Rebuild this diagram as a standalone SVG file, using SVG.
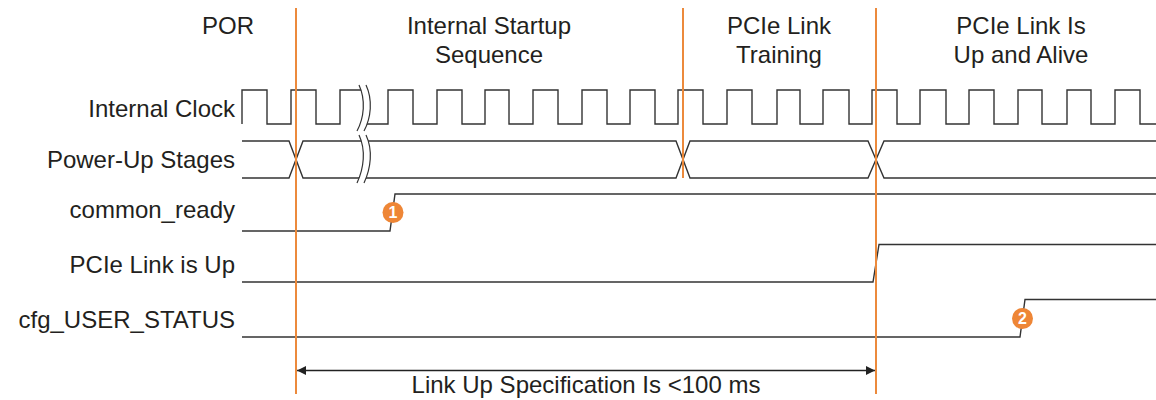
<svg xmlns="http://www.w3.org/2000/svg" width="1156" height="400" viewBox="0 0 1156 400">
<style>
  .lbl{font-family:"Liberation Sans",Arial,sans-serif;font-size:24px;fill:#231f20}
  .r{text-anchor:end}
  .c{text-anchor:middle}
  .sig{fill:none;stroke:#333;stroke-width:1.4}
  .org{stroke:#EC8A3C;stroke-width:2;fill:none}
  .brk{fill:#fff;stroke:none}
  .brkl{fill:none;stroke:#333;stroke-width:1.2}
  .badge{fill:#EE8636}
  .bnum{font-family:"Liberation Sans",Arial,sans-serif;font-size:16px;font-weight:bold;fill:#fff;text-anchor:middle}
</style>
<defs>
  <marker id="ah" viewBox="0 0 10 10" refX="10" refY="5" markerWidth="9" markerHeight="9" markerUnits="userSpaceOnUse" orient="auto-start-reverse">
    <path d="M0,0 L10,5 L0,10 Z" fill="#222"/>
  </marker>
</defs>
<rect width="1156" height="400" fill="#fff"/>

<g id="phase-labels">
  <text class="lbl c" x="228" y="34">POR</text>
  <text class="lbl c" x="489" y="34">Internal Startup</text>
  <text class="lbl c" x="489" y="63">Sequence</text>
  <text class="lbl c" x="779" y="34">PCIe Link</text>
  <text class="lbl c" x="779" y="63">Training</text>
  <text class="lbl c" x="1021" y="34">PCIe Link Is</text>
  <text class="lbl c" x="1021" y="63">Up and Alive</text>
</g>

<g id="internal-clock">
  <text class="lbl r" x="235" y="117">Internal Clock</text>
  <path class="sig" d="M242,124 V90 H267 V124 H291 V90 H316 V124 H340 V90 H364 V124 H388 V90 H413 V124 H437 V90 H462 V124 H485 V90 H509 V124 H533 V90 H558 V124 H582 V90 H607 V124 H630 V90 H655 V124 H678 V90 H703 V124 H727 V90 H752 V124 H777 V90 H800 V124 H823 V90 H849 V124 H872 V90 H897 V124 H920 V90 H946 V124 H969 V90 H994 V124 H1018 V90 H1042 V124 H1067 V90 H1091 V124 H1115 V90 H1140 V124 H1156"/>
</g>

<g id="power-up-stages">
  <text class="lbl r" x="235" y="168">Power-Up Stages</text>
  <path class="sig" d="M242,141 H289 L303,178 H676 L690,141 H868 L884,178 H1156"/>
  <path class="sig" d="M242,178 H289 L303,141 H676 L690,178 H868 L884,141 H1156"/>
</g>

<g id="break-marks">
  <path class="brk" d="M359,85 C366,100 364,118 357,131 L364,131 C371,118 373,100 366,85 Z"/>
  <path class="brkl" d="M359,85 C366,100 364,118 357,131"/>
  <path class="brkl" d="M366,85 C373,100 371,118 364,131"/>
  <path class="brk" d="M359,135 C366,150 364,168 357,183 L364,183 C371,168 373,150 366,135 Z"/>
  <path class="brkl" d="M359,135 C366,150 364,168 357,183"/>
  <path class="brkl" d="M366,135 C373,150 371,168 364,183"/>
</g>

<g id="common-ready">
  <text class="lbl r" x="235" y="218">common_ready</text>
  <path class="sig" d="M242,231 H390 L395,194 H1156"/>
  <circle class="badge" cx="393" cy="212.5" r="10.5"/>
  <text class="bnum" x="393" y="218">1</text>
</g>

<g id="pcie-link-up">
  <text class="lbl r" x="235" y="273">PCIe Link is Up</text>
  <path class="sig" d="M242,282 H873 L879,244.5 H1156"/>
</g>

<g id="cfg-user-status">
  <text class="lbl r" x="235" y="328">cfg_USER_STATUS</text>
  <path class="sig" d="M242,337 H1020 L1025,299.5 H1156"/>
  <circle class="badge" cx="1022.5" cy="318.5" r="10.5"/>
  <text class="bnum" x="1022.5" y="324">2</text>
</g>

<g id="connectors">
  <line class="org" x1="296" y1="8" x2="296" y2="394"/>
  <line class="org" x1="683" y1="8" x2="683" y2="178"/>
  <line class="org" x1="876" y1="8" x2="876" y2="394"/>
  <line x1="297" y1="370.5" x2="875" y2="370.5" stroke="#222" stroke-width="1.4" marker-start="url(#ah)" marker-end="url(#ah)"/>
</g>

<g id="dimension-label">
  <text class="lbl c" x="586" y="393">Link Up Specification Is &lt;100 ms</text>
</g>
</svg>
